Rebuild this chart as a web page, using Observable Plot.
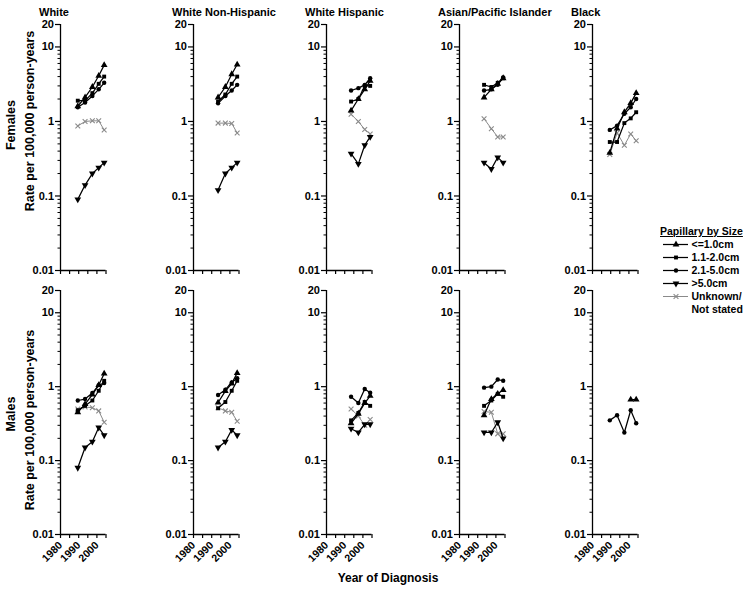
<!DOCTYPE html>
<html><head><meta charset="utf-8">
<script src="https://cdn.jsdelivr.net/npm/d3@7"></script>
<script src="https://cdn.jsdelivr.net/npm/@observablehq/plot@0.6"></script>
<style>
body{margin:0;background:#fff;font-family:"Liberation Sans",Arial,sans-serif;}
#root{position:relative;width:749px;height:591px;overflow:hidden;background:#fff;}
.abs{position:absolute;white-space:nowrap;font-weight:bold;color:#000;line-height:1;}
.rot{transform:translate(-50%,-50%) rotate(-90deg);}
</style></head><body><div id="root"></div>
<script>
// ---------- data ----------
const sizeLabels = ["<=1.0cm", "1.1-2.0cm", "2.1-5.0cm", ">5.0cm", "Unknown/Not stated"];
const raceTitles = ["White", "White Non-Hispanic", "White Hispanic", "Asian/Pacific Islander", "Black"];
const sexLabels = ["Females", "Males"];
const yAxisTitle = "Rate per 100,000 person-years";
const xAxisTitle = "Year of Diagnosis";
const legendTitle = "Papillary by Size";
const years5 = [1989.5, 1993.5, 1997.5, 2001, 2004];
const years4 = [1993.5, 1997.5, 2001, 2004];
const xTicks = [1980, 1985, 1990, 1995, 2000, 2005];
const yMajorTicks = [0.01, 0.1, 1, 10, 20];
const yMinorTicks = [0.02,0.03,0.04,0.05,0.06,0.07,0.08,0.09,0.2,0.3,0.4,0.5,0.6,0.7,0.8,0.9,2,3,4,5,6,7,8,9];

// rates: one row per size group, in sizeLabels order
const femWhite = [[1.6,2.1,2.9,4.1,5.7],[1.9,1.9,2.4,3.2,4.0],[1.55,1.8,2.2,2.7,3.3],[0.09,0.14,0.2,0.24,0.28],[0.87,1.0,1.02,1.02,0.77]];
const femWhiteNH = [[2.1,2.9,4.3,5.8],[1.85,2.3,3.2,4.0],[1.75,2.2,2.6,3.1],[0.12,0.2,0.24,0.28],[0.95,0.95,0.94,0.70]];
const femWhiteHisp = [[1.4,2.0,2.7,3.5],[1.85,2.0,3.0,3.0],[2.6,2.8,3.1,3.8],[0.37,0.27,0.48,0.62],[1.25,1.0,0.78,0.68]];
const femAsianPI = [[2.1,2.7,3.2,3.8],[3.1,2.9,3.3,3.8],[2.6,2.7,3.1,3.9],[0.28,0.23,0.33,0.28],[1.09,0.8,0.62,0.62]];
const femBlack = [[0.38,0.8,1.33,1.76,2.4],[0.53,0.53,0.95,1.1,1.33],[0.77,0.88,1.27,1.55,2.0],[null,null,null,null,null],[0.36,0.7,0.48,0.68,0.55]];
const malWhite = [[0.45,0.58,0.78,1.05,1.5],[0.48,0.55,0.65,0.88,1.2],[0.65,0.68,0.82,1.05,1.12],[0.08,0.15,0.18,0.28,0.22],[0.5,0.53,0.52,0.47,0.33]];
const malWhiteNH = [[0.61,0.87,1.1,1.53],[0.51,0.62,0.88,1.2],[0.77,0.91,1.14,1.3],[0.15,0.18,0.26,0.22],[0.52,0.47,0.45,0.34]];
const malWhiteHisp = [[0.32,0.43,0.6,0.75],[0.35,0.44,0.62,0.55],[0.73,0.6,0.93,0.83],[0.27,0.24,0.31,0.31],[0.5,0.4,0.3,0.36]];
const malAsianPI = [[0.41,0.68,0.8,0.9],[0.55,0.65,0.8,0.73],[0.97,1.0,1.25,1.2],[0.24,0.24,0.33,0.2],[0.46,0.45,0.23,0.23]];
const malBlack = [[null,null,null,0.67,0.67],[null,null,null,null,null],[0.35,0.41,0.24,0.48,0.32],[null,null,null,null,null],[null,null,null,null,null]];

const panels = [
  [femWhite, years5], [femWhiteNH, years4], [femWhiteHisp, years4], [femAsianPI, years4], [femBlack, years5],
  [malWhite, years5], [malWhiteNH, years4], [malWhiteHisp, years4], [malAsianPI, years4], [malBlack, years5]
];

// ---------- styling ----------
const triDown = {draw(ctx, size) {
  const s3 = Math.sqrt(3), y = Math.sqrt(size / (s3 * 3));
  ctx.moveTo(0, 2 * y); ctx.lineTo(-s3 * y, -y); ctx.lineTo(s3 * y, -y); ctx.closePath();
}};
const seriesStyle = [
  {symbol: "triangle", fill: "#000", stroke: "none", r: 2.5, line: "#000", lw: 1.25},
  {symbol: "square", fill: "#000", stroke: "none", r: 2.2, line: "#000", lw: 1.25},
  {symbol: "circle", fill: "#000", stroke: "none", r: 2.2, line: "#000", lw: 1.25},
  {symbol: triDown, fill: "#000", stroke: "none", r: 2.5, line: "#000", lw: 1.25},
  {symbol: "times", fill: "none", stroke: "#8a8a8a", r: 2.3, line: "#8a8a8a", lw: 1.0}
];
const axisXs = [60, 193, 326, 459, 592];
const rowTops = [0, 266];
const ML = 40;
const font = {fontFamily: "'Liberation Sans', Arial, sans-serif", fontWeight: "bold", color: "#000", background: "transparent", overflow: "visible"};

const root = document.getElementById("root");
function addText(txt, css, cls) {
  const d = document.createElement("div");
  d.className = "abs " + (cls || "");
  d.textContent = txt;
  Object.assign(d.style, css);
  root.appendChild(d);
  return d;
}

function makePanel(rates, years, row) {
  const marks = [
    Plot.axisY({ticks: yMinorTicks, tickSize: 2.5, tickFormat: () => "", strokeWidth: 1, label: null}),
    Plot.axisY({ticks: yMajorTicks, tickSize: 5, tickPadding: 1.5, tickFormat: d => String(d), fontSize: 11, strokeWidth: 1.2, label: null}),
    Plot.axisX({ticks: xTicks, tickSize: 4, tickPadding: 5, strokeWidth: 1.2, label: null,
      tickRotate: -45, fontSize: 10.5,
      tickFormat: row === 1 ? (d => d % 10 === 0 ? String(d) : "") : () => ""}),
    Plot.ruleX([1980], {y1: 0.01, y2: 20, stroke: "#000", strokeWidth: 1.3}),
    Plot.ruleY([0.01], {x1: 1980, x2: 2005, stroke: "#000", strokeWidth: 1.3})
  ];
  const order = [4, 3, 2, 1, 0];
  for (const k of order) {
    const st = seriesStyle[k];
    const d = years.map((y, i) => ({year: y, rate: rates[k][i], size: sizeLabels[k]}));
    marks.push(Plot.line(d, {x: "year", y: "rate", stroke: st.line, strokeWidth: st.lw}));
    marks.push(Plot.dot(d.filter(r => r.rate != null), {x: "year", y: "rate", symbol: st.symbol, r: st.r, fill: st.fill, stroke: st.stroke, strokeWidth: 1.1}));
  }
  return Plot.plot({
    width: 100, height: row === 0 ? 282 : 318,
    marginLeft: ML, marginRight: 14.5, marginTop: 24, marginBottom: row === 0 ? 12 : 50,
    x: {domain: [1980, 2005], label: null},
    y: {type: "log", domain: [0.01, 20], label: null},
    style: Object.assign({fontSize: "11px"}, font),
    marks
  });
}

panels.forEach(([rates, years], idx) => {
  const row = Math.floor(idx / 5), col = idx % 5;
  const svg = makePanel(rates, years, row);
  svg.style.position = "absolute";
  svg.style.left = (axisXs[col] - ML) + "px";
  svg.style.top = rowTops[row] + "px";
  root.appendChild(svg);
});

// column titles
raceTitles.forEach((t, i) => addText(t, {left: (axisXs[i] - 21) + "px", top: "7px", fontSize: "11px"}));
// row labels
addText(sexLabels[0], {left: "11px", top: "125px", fontSize: "12.5px"}, "rot");
addText(yAxisTitle, {left: "30px", top: "121px", fontSize: "12.5px"}, "rot");
addText(sexLabels[1], {left: "11px", top: "414px", fontSize: "12.5px"}, "rot");
addText(yAxisTitle, {left: "30px", top: "420px", fontSize: "12.5px"}, "rot");
// x axis title
addText(xAxisTitle, {left: "388px", top: "578px", fontSize: "12px", transform: "translate(-50%,-50%)"});

// legend
addText(legendTitle, {left: "660px", top: "226px", fontSize: "10.5px", textDecoration: "underline"});
const legendRows = sizeLabels.map((s, k) => ({size: s, first: s.split("/")[0] + (s.includes("/") ? "/" : ""), second: s.includes("/") ? s.split("/")[1] : null}));
const legMarks = [];
legendRows.forEach((row, k) => {
  const st = seriesStyle[k];
  legMarks.push(Plot.ruleY([row.size], {x1: 0, x2: 1, stroke: st.line, strokeWidth: st.lw}));
  legMarks.push(Plot.dot([row], {x: 0.5, y: "size", symbol: st.symbol, r: st.r, fill: st.fill, stroke: st.stroke, strokeWidth: 1.1}));
});
legMarks.push(Plot.text(legendRows, {x: 1, y: "size", text: "first", textAnchor: "start", dx: 3, fill: "#000"}));
legMarks.push(Plot.text(legendRows.filter(r => r.second), {x: 1, y: "size", text: "second", textAnchor: "start", dx: 3, dy: 13.2, fill: "#000"}));
const leg = Plot.plot({
  width: 94, height: 90, margin: 0,
  x: {domain: [0, 1], range: [8, 33], axis: null},
  y: {type: "point", domain: sizeLabels, range: [8, 8 + 4 * 13.2], padding: 0, axis: null},
  style: Object.assign({fontSize: "10.5px"}, font),
  marks: legMarks
});
leg.style.position = "absolute"; leg.style.left = "655px"; leg.style.top = "236px";
root.appendChild(leg);
</script>
</body></html>
